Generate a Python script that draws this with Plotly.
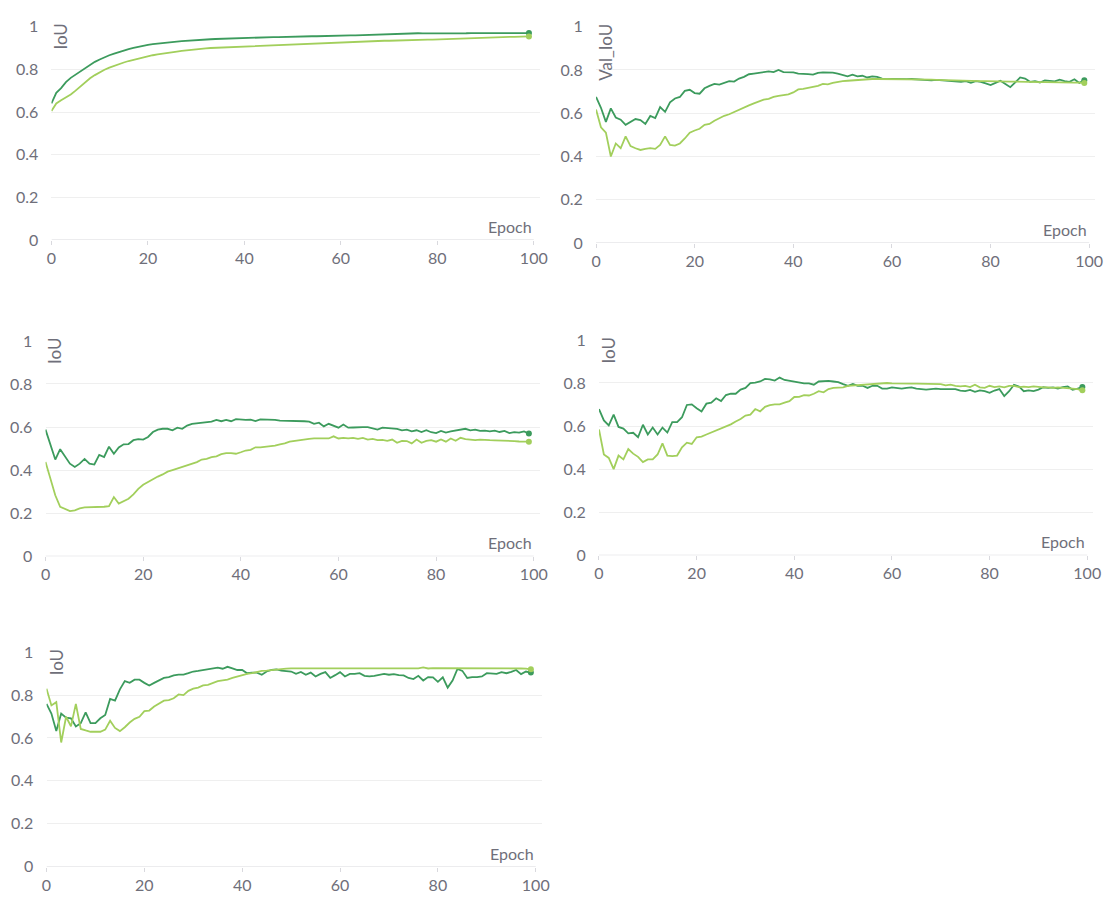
import plotly.graph_objects as go

W, H = 1116, 904

epochs = list(range(100))

x_tick_vals = [0, 20, 40, 60, 80, 100]
x_tick_text = ["0", "20", "40", "60", "80", "100"]
y_tick_vals = [0, 0.2, 0.4, 0.6, 0.8, 1.0]
y_tick_text = ["0", "0.2", "0.4", "0.6", "0.8", "1"]

x_title = "Epoch"
y_titles = ["IoU", "Val_IoU", "IoU", "IoU", "IoU"]

# panel 1: training IoU
train_iou_a = [
    0.640, 0.690, 0.712, 0.740, 0.760, 0.775, 0.792, 0.808, 0.822, 0.835,
    0.846, 0.857, 0.866, 0.874, 0.882, 0.889, 0.895, 0.900, 0.906, 0.911,
    0.915, 0.918, 0.921, 0.924, 0.926, 0.928, 0.930, 0.932, 0.934, 0.936,
    0.938, 0.939, 0.940, 0.941, 0.942, 0.943, 0.943, 0.944, 0.945, 0.946,
    0.947, 0.948, 0.948, 0.949, 0.950, 0.950, 0.951, 0.951, 0.952, 0.952,
    0.953, 0.953, 0.954, 0.954, 0.955, 0.955, 0.956, 0.956, 0.957, 0.957,
    0.958, 0.958, 0.959, 0.959, 0.960, 0.961, 0.962, 0.963, 0.964, 0.965,
    0.966, 0.967, 0.968, 0.968, 0.969, 0.969, 0.969, 0.968, 0.968, 0.967,
    0.966, 0.966, 0.967, 0.968, 0.968, 0.969, 0.969, 0.970, 0.970, 0.971,
    0.971, 0.971, 0.971, 0.972, 0.972, 0.972, 0.971, 0.971, 0.970, 0.970,
]
train_iou_b = [
    0.605, 0.640, 0.655, 0.668, 0.682, 0.700, 0.720, 0.740, 0.758, 0.773,
    0.787, 0.798, 0.808, 0.817, 0.825, 0.832, 0.839, 0.845, 0.851, 0.857,
    0.862, 0.866, 0.870, 0.874, 0.877, 0.880, 0.883, 0.886, 0.889, 0.892,
    0.894, 0.896, 0.898, 0.900, 0.901, 0.903, 0.904, 0.905, 0.906, 0.907,
    0.908, 0.909, 0.910, 0.911, 0.912, 0.913, 0.914, 0.915, 0.916, 0.917,
    0.918, 0.919, 0.920, 0.921, 0.922, 0.923, 0.924, 0.925, 0.926, 0.927,
    0.928, 0.929, 0.929, 0.930, 0.931, 0.931, 0.932, 0.933, 0.933, 0.934,
    0.934, 0.935, 0.936, 0.936, 0.937, 0.937, 0.938, 0.938, 0.939, 0.939,
    0.940, 0.940, 0.941, 0.941, 0.942, 0.943, 0.944, 0.945, 0.945, 0.946,
    0.947, 0.948, 0.949, 0.950, 0.951, 0.952, 0.952, 0.953, 0.953, 0.954,
]

# panel 2: validation IoU
val_iou_a = [
    0.675, 0.625, 0.560, 0.622, 0.580, 0.570, 0.546, 0.558, 0.573, 0.568,
    0.550, 0.587, 0.577, 0.628, 0.606, 0.650, 0.668, 0.675, 0.703, 0.708,
    0.693, 0.690, 0.715, 0.726, 0.735, 0.732, 0.740, 0.748, 0.746, 0.760,
    0.768, 0.780, 0.783, 0.786, 0.790, 0.793, 0.790, 0.800, 0.790, 0.790,
    0.789, 0.783, 0.783, 0.781, 0.778, 0.786, 0.789, 0.789, 0.787, 0.783,
    0.775, 0.770, 0.778, 0.770, 0.773, 0.765, 0.770, 0.768, 0.760, 0.757,
    0.758, 0.757, 0.758, 0.757, 0.758, 0.757, 0.755, 0.752, 0.752, 0.754,
    0.752, 0.753, 0.750, 0.747, 0.745, 0.748, 0.740, 0.748, 0.745, 0.738,
    0.730, 0.740, 0.750, 0.735, 0.720, 0.742, 0.765, 0.760, 0.745, 0.748,
    0.742, 0.752, 0.750, 0.747, 0.755, 0.748, 0.745, 0.757, 0.740, 0.752,
]
val_iou_b = [
    0.617, 0.535, 0.510, 0.400, 0.460, 0.438, 0.493, 0.448, 0.438, 0.430,
    0.435, 0.438, 0.435, 0.453, 0.493, 0.453, 0.450, 0.460, 0.483, 0.510,
    0.520, 0.528, 0.546, 0.550, 0.565, 0.577, 0.588, 0.595, 0.606, 0.615,
    0.625, 0.636, 0.645, 0.655, 0.663, 0.666, 0.675, 0.680, 0.682, 0.687,
    0.696, 0.710, 0.712, 0.717, 0.720, 0.726, 0.735, 0.733, 0.740, 0.745,
    0.748, 0.750, 0.752, 0.754, 0.755, 0.757, 0.758, 0.758, 0.758, 0.758,
    0.758, 0.758, 0.757, 0.757, 0.757, 0.756, 0.756, 0.755, 0.755, 0.754,
    0.753, 0.752, 0.752, 0.751, 0.750, 0.750, 0.749, 0.749, 0.748, 0.748,
    0.747, 0.747, 0.747, 0.746, 0.746, 0.746, 0.745, 0.745, 0.745, 0.744,
    0.744, 0.744, 0.743, 0.743, 0.743, 0.742, 0.742, 0.741, 0.741, 0.740,
]

# panel 3
iou3_a = [
    0.588, 0.517, 0.449, 0.497, 0.464, 0.430, 0.415, 0.430, 0.452, 0.430,
    0.426, 0.471, 0.461, 0.509, 0.476, 0.505, 0.520, 0.521, 0.539, 0.544,
    0.542, 0.554, 0.577, 0.588, 0.592, 0.592, 0.585, 0.597, 0.592, 0.607,
    0.615, 0.618, 0.618, 0.622, 0.625, 0.633, 0.627, 0.633, 0.627, 0.637,
    0.634, 0.633, 0.634, 0.628, 0.636, 0.636, 0.634, 0.633, 0.630, 0.630,
    0.628, 0.627, 0.627, 0.627, 0.625, 0.615, 0.620, 0.603, 0.615, 0.607,
    0.597, 0.612, 0.597, 0.598, 0.600, 0.600, 0.600, 0.595, 0.588, 0.597,
    0.595, 0.594, 0.592, 0.585, 0.588, 0.580, 0.585, 0.577, 0.585, 0.576,
    0.572, 0.582, 0.574, 0.580, 0.585, 0.589, 0.592, 0.585, 0.588, 0.582,
    0.583, 0.580, 0.583, 0.577, 0.582, 0.572, 0.576, 0.574, 0.580, 0.570,
]
iou3_b = [
    0.438, 0.366, 0.283, 0.230, 0.220, 0.210, 0.213, 0.222, 0.227, 0.227,
    0.228, 0.230, 0.230, 0.233, 0.275, 0.245, 0.255, 0.267, 0.287, 0.313,
    0.332, 0.346, 0.358, 0.370, 0.380, 0.393, 0.400, 0.408, 0.414, 0.421,
    0.430, 0.437, 0.449, 0.452, 0.460, 0.464, 0.474, 0.479, 0.479, 0.476,
    0.483, 0.491, 0.494, 0.506, 0.506, 0.508, 0.509, 0.514, 0.520, 0.524,
    0.532, 0.536, 0.539, 0.542, 0.545, 0.547, 0.547, 0.550, 0.547, 0.557,
    0.547, 0.550, 0.547, 0.550, 0.545, 0.550, 0.542, 0.545, 0.539, 0.540,
    0.536, 0.542, 0.527, 0.536, 0.535, 0.524, 0.542, 0.527, 0.536, 0.539,
    0.532, 0.542, 0.532, 0.547, 0.536, 0.550, 0.544, 0.542, 0.539, 0.542,
    0.539, 0.539, 0.538, 0.538, 0.536, 0.536, 0.535, 0.533, 0.533, 0.532,
]

# panel 4
iou4_a = [
    0.679, 0.626, 0.603, 0.653, 0.596, 0.588, 0.566, 0.569, 0.548, 0.606,
    0.561, 0.593, 0.561, 0.593, 0.570, 0.618, 0.618, 0.641, 0.698, 0.701,
    0.683, 0.668, 0.704, 0.709, 0.729, 0.716, 0.744, 0.751, 0.750, 0.769,
    0.777, 0.800, 0.802, 0.807, 0.819, 0.817, 0.811, 0.825, 0.814, 0.810,
    0.807, 0.802, 0.798, 0.798, 0.792, 0.807, 0.810, 0.810, 0.807, 0.804,
    0.795, 0.787, 0.796, 0.787, 0.787, 0.777, 0.787, 0.787, 0.774, 0.774,
    0.780, 0.777, 0.774, 0.777, 0.780, 0.774, 0.771, 0.769, 0.772, 0.774,
    0.772, 0.772, 0.774, 0.772, 0.765, 0.762, 0.768, 0.759, 0.766, 0.762,
    0.754, 0.765, 0.772, 0.739, 0.762, 0.792, 0.784, 0.762, 0.766, 0.762,
    0.769, 0.780, 0.777, 0.780, 0.774, 0.781, 0.784, 0.769, 0.774, 0.781,
]
iou4_b = [
    0.584, 0.468, 0.452, 0.400, 0.463, 0.445, 0.493, 0.472, 0.457, 0.433,
    0.445, 0.445, 0.468, 0.520, 0.463, 0.460, 0.463, 0.501, 0.523, 0.517,
    0.548, 0.551, 0.561, 0.570, 0.578, 0.588, 0.596, 0.608, 0.621, 0.633,
    0.649, 0.653, 0.679, 0.668, 0.689, 0.697, 0.701, 0.701, 0.709, 0.716,
    0.735, 0.736, 0.744, 0.742, 0.750, 0.762, 0.757, 0.772, 0.777, 0.780,
    0.780, 0.787, 0.789, 0.789, 0.792, 0.795, 0.796, 0.798, 0.800, 0.800,
    0.798, 0.797, 0.797, 0.797, 0.797, 0.797, 0.796, 0.796, 0.796, 0.795,
    0.795, 0.789, 0.792, 0.787, 0.784, 0.787, 0.781, 0.792, 0.780, 0.777,
    0.787, 0.781, 0.784, 0.780, 0.787, 0.787, 0.781, 0.783, 0.781, 0.784,
    0.781, 0.780, 0.780, 0.777, 0.780, 0.777, 0.777, 0.774, 0.772, 0.766,
]

# panel 5
iou5_a = [
    0.759, 0.714, 0.632, 0.714, 0.695, 0.692, 0.654, 0.669, 0.719, 0.669,
    0.669, 0.692, 0.707, 0.782, 0.774, 0.827, 0.865, 0.857, 0.872, 0.872,
    0.857, 0.845, 0.857, 0.868, 0.880, 0.884, 0.892, 0.895, 0.895, 0.902,
    0.910, 0.913, 0.917, 0.920, 0.922, 0.928, 0.923, 0.932, 0.925, 0.917,
    0.917, 0.902, 0.905, 0.905, 0.895, 0.910, 0.917, 0.920, 0.914, 0.913,
    0.910, 0.899, 0.908, 0.895, 0.905, 0.887, 0.899, 0.907, 0.880, 0.893,
    0.907, 0.887, 0.899, 0.899, 0.902, 0.890, 0.887, 0.890, 0.896, 0.899,
    0.895, 0.898, 0.893, 0.892, 0.880, 0.875, 0.890, 0.868, 0.884, 0.883,
    0.862, 0.883, 0.835, 0.868, 0.922, 0.913, 0.880, 0.884, 0.884, 0.887,
    0.902, 0.899, 0.899, 0.907, 0.902, 0.908, 0.917, 0.898, 0.910, 0.905,
]
iou5_b = [
    0.830, 0.752, 0.767, 0.579, 0.699, 0.654, 0.759, 0.642, 0.635, 0.629,
    0.629, 0.629, 0.639, 0.680, 0.647, 0.632, 0.650, 0.672, 0.689, 0.699,
    0.725, 0.728, 0.747, 0.762, 0.774, 0.777, 0.785, 0.803, 0.800, 0.820,
    0.830, 0.835, 0.845, 0.848, 0.857, 0.865, 0.869, 0.872, 0.880, 0.887,
    0.893, 0.899, 0.902, 0.907, 0.913, 0.914, 0.917, 0.920, 0.922, 0.923,
    0.925, 0.925, 0.926, 0.927, 0.927, 0.928, 0.928, 0.928, 0.928, 0.928,
    0.928, 0.928, 0.928, 0.928, 0.928, 0.928, 0.928, 0.928, 0.928, 0.928,
    0.928, 0.927, 0.927, 0.927, 0.927, 0.926, 0.925, 0.929, 0.924, 0.926,
    0.926, 0.927, 0.927, 0.927, 0.927, 0.927, 0.927, 0.927, 0.927, 0.927,
    0.927, 0.927, 0.927, 0.926, 0.926, 0.925, 0.925, 0.924, 0.923, 0.920,
]

series_pairs = [
    (train_iou_a, train_iou_b),
    (val_iou_a, val_iou_b),
    (iou3_a, iou3_b),
    (iou4_a, iou4_b),
    (iou5_a, iou5_b),
]

# pixel placement of each panel: (x of epoch 0, x of epoch 100, y of value 1, y of value 0)
panel_px = [
    (47, 535, 17, 235),
    (598, 1097, 17, 238),
    (41, 535, 338, 558),
    (601, 1095, 337, 557),
    (42, 537, 656, 875),
]

DARK = "#3c9b5d"
LIGHT = "#a2cf5c"
TEXT = "#6f6f7a"
GRID = "#efefef"
AXIS = "#d9d9de"
FONT = "Lato, 'Open Sans', sans-serif"
X_MAX = 101.2

fig = go.Figure()
layout = dict(
    width=W, height=H,
    margin=dict(l=0, r=0, t=0, b=0),
    paper_bgcolor="white", plot_bgcolor="white",
    showlegend=False,
    font=dict(family=FONT, color=TEXT, size=16),
)
annotations = []
shapes = []

for i, ((ya, yb), (px0, px100, py1, py0)) in enumerate(zip(series_pairs, panel_px)):
    n = "" if i == 0 else str(i + 1)
    xref, yref = "x" + n, "y" + n
    px_end = px0 + (px100 - px0) * X_MAX / 100
    layout["xaxis" + n] = dict(
        domain=[px0 / W, px_end / W],
        range=[0, X_MAX],
        anchor=yref,
        tickvals=x_tick_vals, ticktext=x_tick_text,
        ticks="outside", ticklen=4, tickcolor=AXIS, tickwidth=1,
        showgrid=False, zeroline=False, showline=False,
        tickfont=dict(size=16, color=TEXT, family=FONT),
        fixedrange=True,
    )
    # invisible tick marks keep the labels clear of the plot edge
    layout["yaxis" + n] = dict(
        domain=[1 - py0 / H, 1 - py1 / H],
        range=[0, 1],
        anchor=xref,
        tickvals=y_tick_vals, ticktext=y_tick_text,
        ticks="outside", ticklen=9, tickcolor="rgba(0,0,0,0)",
        showgrid=True, gridcolor=GRID, gridwidth=1,
        zeroline=False, showline=False,
        tickfont=dict(size=16, color=TEXT, family=FONT),
        fixedrange=True,
    )
    # x axis baseline from epoch 0 to 100
    shapes.append(dict(type="line", xref=xref, yref=yref, x0=0, x1=100, y0=0, y1=0,
                       line=dict(color=AXIS, width=1.2), layer="above"))

    for ys, color in ((ya, DARK), (yb, LIGHT)):
        fig.add_trace(go.Scatter(
            x=epochs, y=ys, mode="lines", xaxis=xref, yaxis=yref,
            line=dict(color=color, width=1.8), hoverinfo="skip",
        ))
        fig.add_trace(go.Scatter(
            x=[epochs[-1]], y=[ys[-1]], mode="markers", xaxis=xref, yaxis=yref,
            marker=dict(color=color, size=6), hoverinfo="skip",
        ))

    annotations.append(dict(
        text=x_title, xref=xref, yref=yref, x=100, y=0,
        xanchor="right", yanchor="bottom", yshift=2, showarrow=False,
        font=dict(size=16, color=TEXT, family=FONT),
    ))
    annotations.append(dict(
        text=y_titles[i], xref=xref + " domain", yref=yref + " domain", x=0, y=1,
        xanchor="left", yanchor="top", xshift=-3, yshift=5, textangle=-90,
        showarrow=False, font=dict(size=17, color=TEXT, family=FONT),
    ))

layout["annotations"] = annotations
layout["shapes"] = shapes
fig.update_layout(**layout)

fig.write_html("out.html")
